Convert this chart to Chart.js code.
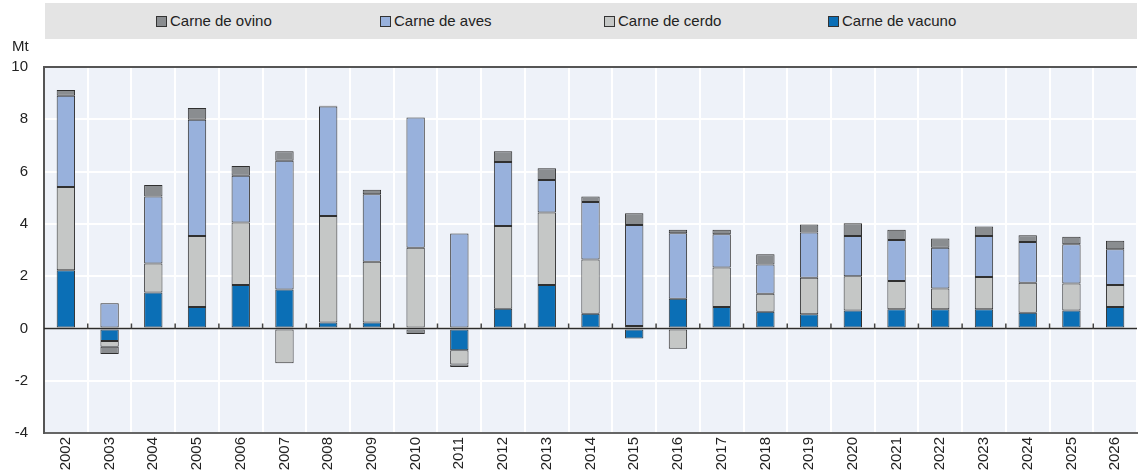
<!DOCTYPE html>
<html>
<head>
<meta charset="utf-8">
<script src="https://cdn.jsdelivr.net/npm/chart.js@4/dist/chart.umd.min.js"></script>
<style>
  html, body { margin: 0; padding: 0; background: #fff; }
  #wrap { position: relative; width: 1139px; height: 474px; font-family: "Liberation Sans", Arial, sans-serif; }
  #legend { position: absolute; left: 45px; top: 3px; width: 1092px; height: 36px; background: #e4e4e4; }
  .item { position: absolute; top: 10px; font-size: 15px; color: #222; white-space: nowrap; line-height: 16px; }
  .box { display: inline-block; width: 9px; height: 9px; border: 1px solid #333; margin-right: 3px; vertical-align: -1px; }
  #unit { position: absolute; left: 12px; top: 37px; font-size: 15px; color: #222; }
  canvas { position: absolute; left: 0; top: 0; }
</style>
</head>
<body>
<div id="wrap">
  <canvas id="chart" width="1139" height="474"></canvas>
  <div id="legend"></div>
  <div id="unit">Mt</div>
</div>
<script>
// datos
const years = ['2002','2003','2004','2005','2006','2007','2008','2009','2010','2011','2012','2013','2014',
  '2015','2016','2017','2018','2019','2020','2021','2022','2023','2024','2025','2026'];
const vacuno = [2.23, -0.48, 1.37, 0.82, 1.66, 1.49, 0.23, 0.23, -0.04, -0.83, 0.75, 1.66, 0.56,
  -0.39, 1.14, 0.82, 0.64, 0.54, 0.69, 0.73, 0.73, 0.73, 0.60, 0.69, 0.82];
const cerdo = [3.18, -0.22, 1.11, 2.72, 2.39, -1.33, 4.07, 2.32, 3.09, -0.55, 3.17, 2.77, 2.08,
  0.09, -0.78, 1.51, 0.69, 1.40, 1.31, 1.08, 0.80, 1.24, 1.15, 1.03, 0.84];
const aves = [3.49, 0.96, 2.57, 4.44, 1.79, 4.92, 4.19, 2.58, 4.98, 3.63, 2.45, 1.25, 2.20,
  3.87, 2.50, 1.27, 1.12, 1.73, 1.54, 1.57, 1.56, 1.57, 1.56, 1.50, 1.37];
const ovino = [0.22, -0.28, 0.44, 0.45, 0.37, 0.37, 0.03, 0.17, -0.17, -0.10, 0.41, 0.45, 0.21,
  0.45, 0.13, 0.17, 0.39, 0.31, 0.48, 0.39, 0.35, 0.36, 0.25, 0.29, 0.32];
const yTicks = [-4, -2, 0, 2, 4, 6, 8, 10];

const FONT = '"Liberation Sans", Arial, sans-serif';

function ds(label, data, color) {
  return {
    label: label,
    data: data,
    backgroundColor: color,
    borderColor: '#303030',
    borderWidth: 1,
    borderSkipped: false,
    categoryPercentage: 1,
    barPercentage: 0.42
  };
}

const datasets = [
  ds('Carne de vacuno', vacuno, '#0b6fb6'),
  ds('Carne de cerdo', cerdo, '#c5c7c6'),
  ds('Carne de aves', aves, '#98b1dc'),
  ds('Carne de ovino', ovino, '#8a8d90')
];

// fondo del área de trazado + bordes + marcas en el cero
const plotDeco = {
  id: 'plotDeco',
  beforeDraw(chart) {
    const { ctx, chartArea: a } = chart;
    ctx.save();
    ctx.fillStyle = '#eef2f9';
    ctx.fillRect(a.left, a.top, a.right - a.left, a.bottom - a.top);
    ctx.restore();
  },
  afterDatasetsDraw(chart) {
    const { ctx, chartArea: a, scales } = chart;
    const y0 = Math.round(scales.y.getPixelForValue(0)) + 0.5;
    ctx.save();
    ctx.strokeStyle = '#2b2b2b';
    ctx.lineWidth = 1.5;
    ctx.beginPath();
    ctx.moveTo(a.left, y0);
    ctx.lineTo(a.right, y0);
    ctx.stroke();
    ctx.strokeStyle = '#444';
    for (let i = 1; i < years.length; i++) {
      const x = (scales.x.getPixelForValue(i - 1) + scales.x.getPixelForValue(i)) / 2;
      ctx.beginPath();
      ctx.moveTo(x, y0);
      ctx.lineTo(x, y0 - 5);
      ctx.stroke();
    }
    ctx.strokeStyle = '#555';
    ctx.lineWidth = 2;
    ctx.beginPath();
    ctx.moveTo(a.left, a.top);
    ctx.lineTo(a.right, a.top);
    ctx.stroke();
    ctx.restore();
  }
};

new Chart(document.getElementById('chart'), {
  type: 'bar',
  data: { labels: years, datasets: datasets },
  plugins: [plotDeco],
  options: {
    responsive: false,
    animation: false,
    layout: { padding: { top: 67, right: 2, left: 0, bottom: 0 } },
    plugins: {
      legend: { display: false },
      tooltip: { enabled: false }
    },
    scales: {
      x: {
        stacked: true,
        afterFit: s => { s.height = 41; },
        border: { display: true, color: '#666', width: 2 },
        grid: { color: '#ffffff', lineWidth: 2, drawTicks: false },
        ticks: {
          color: '#222',
          font: { family: FONT, size: 15 },
          minRotation: 90,
          maxRotation: 90,
          padding: 4,
          autoSkip: false
        }
      },
      y: {
        stacked: true,
        min: -4,
        max: 10,
        afterFit: s => { s.width = 44; },
        afterBuildTicks: s => { s.ticks = yTicks.map(v => ({ value: v })); },
        border: { display: true, color: '#555', width: 2 },
        grid: { color: '#ffffff', lineWidth: 2, drawTicks: false },
        ticks: {
          color: '#222',
          font: { family: FONT, size: 15 },
          padding: 16
        }
      }
    }
  }
});

// leyenda (orden invertido)
const legend = document.getElementById('legend');
const order = [3, 2, 1, 0];
order.forEach((k, i) => {
  const d = datasets[k];
  const el = document.createElement('div');
  el.className = 'item';
  el.style.left = (111 + i * 224) + 'px';
  el.innerHTML = '<span class="box" style="background:' + d.backgroundColor + '"></span>' + d.label;
  legend.appendChild(el);
});
</script>
</body>
</html>
